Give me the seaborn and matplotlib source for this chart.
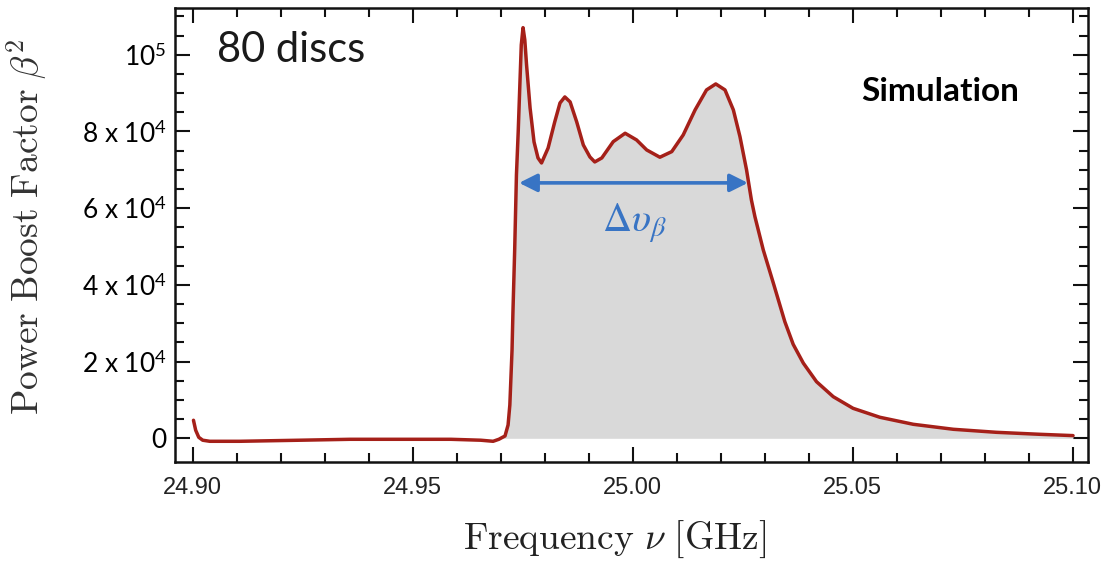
import matplotlib
matplotlib.use("Agg")
import matplotlib.pyplot as plt
import seaborn as sns
import numpy as np
import pandas as pd
from matplotlib.ticker import FixedLocator, FixedFormatter, MultipleLocator

# ---- data ----
freq_ghz = [24.9002, 24.9007, 24.9014, 24.9023, 24.9039, 24.9107, 24.9244, 24.9358,
            24.9473, 24.9587, 24.9655, 24.9683, 24.9696, 24.9705, 24.9710, 24.9717,
            24.9721, 24.9726, 24.9728, 24.9732, 24.9736, 24.9740, 24.9744, 24.9747,
            24.9751, 24.9755, 24.9759, 24.9767, 24.9776, 24.9785, 24.9793, 24.9808,
            24.9823, 24.9835, 24.9846, 24.9858, 24.9873, 24.9888, 24.9903, 24.9914,
            24.9930, 24.9956, 24.9983, 25.0009, 25.0032, 25.0062, 25.0089, 25.0115,
            25.0142, 25.0168, 25.0189, 25.0210, 25.0229, 25.0244, 25.0259, 25.0270,
            25.0278, 25.0297, 25.0320, 25.0346, 25.0365, 25.0388, 25.0418, 25.0456,
            25.0501, 25.0562, 25.0638, 25.0729, 25.0827, 25.0926, 25.1001]
boost = [4700, 2100, 260, -500, -780, -780, -500, -260,
         -260, -260, -500, -780, -260, 300, 600, 3470,
         8690, 23030, 32680, 49110, 68670, 79880, 92920, 102570,
         107080, 103880, 97360, 86140, 77270, 73100, 71790, 75700,
         82490, 87440, 89010, 87710, 82490, 76490, 73360, 72060,
         73100, 77350, 79540, 77800, 75190, 73290, 74750, 79100,
         85620, 90840, 92400, 90840, 85620, 78660, 69970, 62150,
         57790, 49110, 40420, 30400, 24500, 19600, 14760, 10850,
         7820, 5480, 3650, 2350, 1560, 1040, 700]

y_ticks = [0, 20000, 40000, 60000, 80000, 100000]
y_tick_labels = ["0", "2 x 10$^4$", "4 x 10$^4$", "6 x 10$^4$", "8 x 10$^4$", "10$^5$"]
x_ticks = [24.90, 24.95, 25.00, 25.05, 25.10]
x_tick_labels = ["24.90", "24.95", "25.00", "25.05", "25.10"]
arrow_span = [24.9742, 25.0262]
arrow_level = 66600
fill_start = 24.9696

df = pd.DataFrame({"freq": freq_ghz, "boost": boost})

sns.set_theme(style="ticks")
plt.rcParams["mathtext.fontset"] = "custom"
plt.rcParams["mathtext.rm"] = "Lato"
plt.rcParams["mathtext.it"] = "Lato:italic"
plt.rcParams["mathtext.bf"] = "Lato:bold"
plt.rcParams["font.family"] = ["Lato", "DejaVu Sans"]

fig = plt.figure(figsize=(11.12, 5.62), dpi=100)
ax = fig.add_axes([175 / 1112, 100 / 562, 913 / 1112, 454 / 562])

fx = np.array(freq_ghz)
fy = np.array(boost)
ax.fill_between(fx, 0, fy, where=fx >= fill_start, color="#d9d9d9", lw=0, zorder=1)
sns.lineplot(data=df, x="freq", y="boost", ax=ax, color="#a52019", lw=2.5,
             zorder=3, sort=False, solid_joinstyle="round", solid_capstyle="round")

ax.set_xlim(24.8960, 25.1035)
ax.set_ylim(-6180, 112200)

ax.xaxis.set_major_locator(FixedLocator(x_ticks))
ax.xaxis.set_major_formatter(FixedFormatter(x_tick_labels))
ax.xaxis.set_minor_locator(MultipleLocator(0.01))
ax.yaxis.set_major_locator(FixedLocator(y_ticks))
ax.yaxis.set_major_formatter(FixedFormatter(y_tick_labels))
ax.yaxis.set_minor_locator(FixedLocator(np.arange(0, 112001, 5000)))

ax.tick_params(which="both", direction="in", top=True, right=True, width=1.5,
               color="#111111")
ax.tick_params(which="major", length=11)
ax.tick_params(which="minor", length=6.5)
ax.tick_params(axis="y", which="major", pad=6, labelsize=19, labelcolor="#000000")
ax.tick_params(axis="x", which="major", pad=11, labelsize=17, labelcolor="#222222")
for lab in ax.get_xticklabels():
    lab.set_family(["Liberation Sans", "DejaVu Sans"])
for sp in ax.spines.values():
    sp.set_linewidth(1.8)
    sp.set_color("#111111")

ax.set_xlabel(r"$\mathrm{Frequency}\ \nu\ [\mathrm{GHz}]$", fontsize=27,
              math_fontfamily="cm", color="#222222")
ax.set_ylabel(r"$\mathrm{Power\ Boost\ Factor}\ \beta^2$", fontsize=27,
              math_fontfamily="cm", color="#333333")
ax.xaxis.set_label_coords(0.482, -0.125)
ax.yaxis.set_label_coords(-0.138, 0.518)

ax.text(0.046, 0.907, "80 discs", transform=ax.transAxes, fontsize=30,
        ha="left", va="center", color="#1a1a1a", family=["Lato", "DejaVu Sans"])
ax.text(0.838, 0.815, "Simulation", transform=ax.transAxes, fontsize=24,
        fontweight="bold", ha="center", va="center", color="#000000",
        family=["Lato", "DejaVu Sans"])

blue = "#3874c4"
ax.annotate("", xy=(arrow_span[1], arrow_level), xytext=(arrow_span[0], arrow_level),
            arrowprops=dict(arrowstyle="<|-|>,head_length=0.9,head_width=0.45",
                            color=blue, lw=2.6, shrinkA=0, shrinkB=0), zorder=4)
ax.text(25.0003, 56000, r"$\mathit{\Delta}\upsilon_{\beta}$", fontsize=29,
        color=blue, ha="center", va="center", math_fontfamily="stix", zorder=4)

sns.despine(ax=ax, top=False, right=False)
fig.savefig("out.png", dpi=100)
